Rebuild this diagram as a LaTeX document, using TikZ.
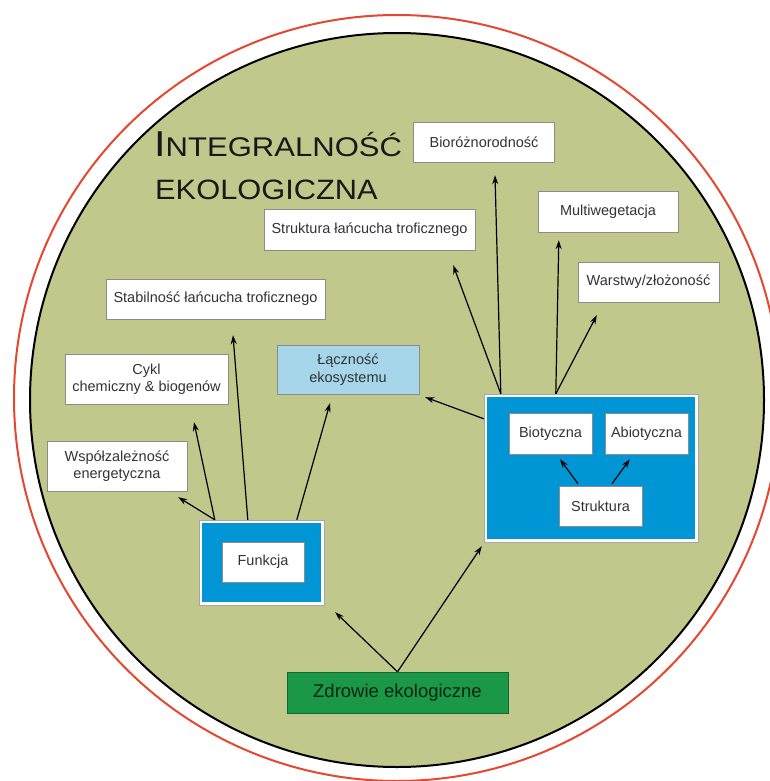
\documentclass[tikz,border=0pt]{standalone}
\usepackage{fontspec}
\setmainfont{Liberation Sans}
\usetikzlibrary{positioning,arrows.meta,calc}
\definecolor{tlo}{RGB}{192,200,140}
\definecolor{czerwony}{RGB}{228,72,48}
\definecolor{niebieski}{RGB}{0,150,214}
\definecolor{jasnoniebieski}{RGB}{166,214,234}
\definecolor{zielony}{RGB}{26,152,72}

\begin{document}
\begin{tikzpicture}[x=1pt,y=-1pt,
  box/.style={draw=black!45,fill=white,text=black!80,inner sep=0pt,align=center,font=\fontsize{14.5}{17.5}\selectfont},
  grp/.style={draw=black!35,fill=white,inner sep=0pt,path picture={\fill[niebieski]([shift={(3pt,-3pt)}]path picture bounding box.north west) rectangle ([shift={(-3pt,3pt)}]path picture bounding box.south east);}},
  arr/.style={-{Stealth[length=9pt,width=6pt]},line width=1.2pt}]
  \useasboundingbox (0,0) rectangle (769,781);
  \fill[tlo](397,400)circle(367pt);
  \draw[czerwony,line width=2pt](397,398)circle(383pt);
  \draw[line width=2pt](397,400)circle(367pt);
  \node[anchor=base west,inner sep=0pt,text=black!90,font=\fontsize{27}{27}\selectfont] (tytul) at (154,156){\scalebox{1.15}[1]{{\fontsize{36}{36}\selectfont I}NTEGRALNOŚĆ}};
  \node[anchor=base west,inner sep=0pt,text=black!90,font=\fontsize{28}{28}\selectfont] (tytul2) at (155,199){\scalebox{1.1}[1]{EKOLOGICZNA}};
  % funkcja
  \node[box,minimum width=141,minimum height=40] (bio) at (484,142){Bioróżnorodność};
  \node[box,minimum width=211,minimum height=41] (slt) at (369.5,229.5){Struktura łańcucha troficznego};
  \node[box,minimum width=140,minimum height=41] (multi) at (608,211.5){Multiwegetacja};
  \node[box,minimum width=141,minimum height=40] (warstwy) at (648.5,282){Warstwy/złożoność};
  \node[box,minimum width=219,minimum height=40] (stab) at (215.5,299){Stabilność łańcucha troficznego};
  \node[box,minimum width=163,minimum height=50] (cykl) at (146.5,379){Cykl\\chemiczny \& biogenów};
  \node[box,fill=jasnoniebieski,minimum width=142,minimum height=49] (lacznosc) at (348,369.5){Łączność\\ekosystemu};
  \node[box,minimum width=140,minimum height=50] (wsp) at (117,466){Współzależność\\energetyczna};
  \node[grp,minimum width=125,minimum height=85] (fgrp) at (261.5,562.5){};
  \node[box,minimum width=82,minimum height=40] (funkcja) at (263,562){Funkcja};
  % struktura
  \node[grp,minimum width=214,minimum height=148] (sgrp) at (591,468){};
  \node[box,minimum width=83,minimum height=41] (biot) at (550.5,433.5){Biotyczna};
  \node[box,minimum width=83,minimum height=41] (abiot) at (646.5,433.5){Abiotyczna};
  \node[box,minimum width=83,minimum height=40] (struktura) at (600.5,506){Struktura};
  \node[box,fill=zielony,draw=zielony!70!black,text=black!75!zielony,font=\fontsize{18.5}{20}\selectfont,minimum width=221,minimum height=41] (zdrowie) at (397.5,692.5){Zdrowie ekologiczne};
  \draw[arr](zdrowie.north)--([shift={(11,7)}]fgrp.south east);
  \draw[arr](zdrowie.north)--([shift={(-2,4)}]sgrp.south west);
  \draw[arr]([shift={(16,0)}]fgrp.north west)--([shift={(-9,6)}]wsp.south east);
  \draw[arr]([shift={(16,0)}]fgrp.north west)--([shift={(47.5,18)}]cykl.south);
  \draw[arr]([shift={(49,0)}]fgrp.north west)--([shift={(17.5,16)}]stab.south);
  \draw[arr]([shift={(98,0)}]fgrp.north west)--([shift={(-18,9)}]lacznosc.south);
  \draw[arr]([shift={(0,25)}]sgrp.north west)--([shift={(6,3)}]lacznosc.south east);
  \draw[arr]([shift={(17,0)}]sgrp.north west)--([shift={(-22,15)}]slt.south east);
  \draw[arr]([shift={(17,0)}]sgrp.north west)--([shift={(11,13)}]bio.south);
  \draw[arr]([shift={(72,0)}]sgrp.north west)--([shift={(21,8)}]multi.south west);
  \draw[arr]([shift={(72,0)}]sgrp.north west)--([shift={(19,13)}]warstwy.south west);
  \draw[arr]([shift={(-22.5,-2)}]struktura.north)--([shift={(9.5,5)}]biot.south);
  \draw[arr]([shift={(11.5,-2)}]struktura.north)--([shift={(25,5)}]abiot.south west);
\end{tikzpicture}
\end{document}
